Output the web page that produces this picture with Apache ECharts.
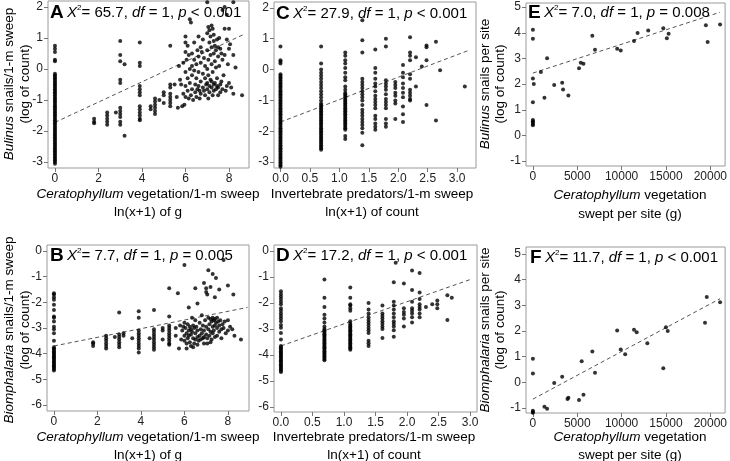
<!DOCTYPE html>
<html><head><meta charset="utf-8">
<script src="https://cdn.jsdelivr.net/npm/echarts@6/dist/echarts.min.js"></script>
<style>html,body{margin:0;padding:0;background:#fff}#c{width:730px;height:461px}</style>
</head><body><div id="c"></div><script>
// ---------- Panel A: Bulinus vs Ceratophyllum (per sweep) ----------
const aColumns = [
  [0, [-3.05,-3.0,-2.95,-2.9,-2.85,-2.8,-2.75,-2.7,-2.65,-2.6,-2.55,-2.5,-2.45,-2.4,-2.35,-2.3,-2.25,-2.2,-2.15,-2.1,-2.05,-2.0,-1.95,-1.9,-1.85,-1.8,-1.75,-1.7,-1.65,-1.6,-1.55,-1.5,-1.45,-1.4,-1.35,-1.3,-1.25,-1.2,-1.15,-1.1,-1.05,-1.0,-0.95,-0.9,-0.85,-0.8,-0.75,-0.7,-0.65,-0.6,-0.55,-0.5,-0.45,-0.4,-0.35,-0.3,-0.25,-0.2,-0.15,0.25,0.3,0.55,0.65,0.75]],
  [1.8, [-1.6,-1.7,-1.75]],
  [2.4, [-1.4,-1.5,-1.6,-1.7,-1.8]],
  [2.8, [-1.4]],
  [3.0, [0.9,0.45,0.25,-0.35,-0.45,-1.25,-1.35,-1.45,-1.55,-1.7,-1.8]],
  [3.2, [0.15,-2.15]],
  [3.9, [0.85,0.2,0.1,-0.55,-0.65,-0.75,-0.85,-1.2,-1.3,-1.4,-1.5,-1.6,-1.65]],
  [4.4, [-1.2,-1.3]],
  [4.6, [-0.95,-1.05,-1.15,-1.25,-1.35,-1.45]],
  [4.8, [-1.0]],
  [5.0, [-0.75,-0.85,-1.1]],
  [5.3, [0.75,-0.5,-0.6,-0.8,-0.9,-1.0,-1.1,-1.2]]
];
const aPoints = [
  [5.5,-0.5],[5.6,-0.9],[5.65,-1.25],[5.75,-0.35],[5.85,-1.2],[5.7,0.1],
  [5.8,-0.5],[5.9,-0.8],[5.9,0.2],[6.0,1.05],[6.0,0.85],[6.0,0.55],[6.0,-0.1],[6.0,-0.55],[6.0,-0.9],[5.95,-1.15],[6.05,0.3],[6.1,0.75],[6.1,-0.3],[6.1,-0.7],[6.15,0.45],[6.15,-0.95],
  [6.2,1.6],[6.25,1.5],[6.2,0.0],[6.2,-0.45],[6.25,-0.85],[6.3,0.5],[6.3,0.1],[6.3,-0.2],[6.3,-0.65],[6.35,-1.0],[6.4,0.85],[6.4,0.3],[6.4,-0.05],[6.45,-0.5],[6.45,-0.75],[6.5,0.15],[6.5,-0.3],[6.5,-0.9],[6.55,0.6],[6.55,-0.65],
  [6.6,1.05],[6.6,0.4],[6.6,-0.1],[6.6,-0.55],[6.65,-0.7],[6.65,-0.95],[6.7,0.7],[6.7,0.2],[6.7,-0.4],[6.7,-0.8],[6.75,0.55],[6.8,0.95],[6.8,-0.15],[6.8,-0.6],[6.85,-0.7],[6.85,0.35],[6.9,-0.3],[6.9,-0.85],[6.9,0.1],[6.95,-0.5],
  [7.0,2.15],[7.0,1.15],[7.0,0.6],[7.0,0.0],[7.0,-0.45],[7.0,-0.65],[7.05,1.35],[7.05,0.3],[7.05,-0.2],[7.05,-0.95],[7.1,1.25],[7.1,0.85],[7.1,-0.55],[7.1,-0.75],[7.15,0.45],[7.15,1.05],[7.15,-0.35],[7.2,1.4],[7.2,0.7],[7.2,0.15],[7.2,-0.6],[7.2,-0.4],[7.25,1.3],[7.25,-0.1],[7.25,-0.85],[7.3,1.1],[7.3,0.5],[7.3,0.9],[7.3,-0.5],[7.3,-0.7],
  [7.35,0.75],[7.35,0.25],[7.35,-0.45],[7.4,2.2],[7.4,0.6],[7.4,0.05],[7.4,-0.65],[7.45,0.95],[7.45,-0.3],[7.45,-0.55],[7.5,0.7],[7.5,0.4],[7.5,-0.6],[7.5,-0.85],[7.55,1.0],[7.55,0.1],[7.6,0.65],[7.6,-0.5],[7.6,-0.75],[7.65,0.5],[7.65,-0.4],[7.7,1.9],[7.7,0.3],[7.7,-0.65],
  [7.75,-0.2],[7.8,2.0],[7.8,1.3],[7.8,0.45],[7.85,-0.7],[7.9,1.75],[7.9,-0.55],[7.95,0.15],[8.0,1.3],[8.0,-0.45],[8.05,0.8],[8.1,-0.6],[8.2,2.15],[8.2,0.45],[8.2,-0.8],[8.3,0.05],[8.6,-0.85],[8.0,0.65],[7.9,0.95]
];
const aTrend = [[0,-1.72],[8.7,1.12]];

// ---------- Panel B: Biomphalaria vs Ceratophyllum (per sweep) ----------
const bColumns = [
  [0, [-4.65,-4.6,-4.55,-4.5,-4.45,-4.4,-4.35,-4.3,-4.25,-4.2,-4.15,-4.1,-4.05,-4.0,-3.95,-3.9,-3.85,-3.8,-3.75,-3.5,-3.2,-3.05,-2.95,-2.75,-2.6,-2.55,-2.3,-2.1,-1.9,-1.8,-1.7,-1.65]],
  [1.8, [-3.55,-3.6,-3.7]],
  [2.4, [-3.3,-3.4,-3.5,-3.6,-3.7,-3.8]],
  [2.8, [-3.35]],
  [3.0, [-2.4,-3.25,-3.35,-3.45,-3.55,-3.65,-3.75]],
  [3.2, [-3.2,-3.3]],
  [3.6, [-3.4]],
  [3.9, [-2.35,-2.6,-3.1,-3.2,-3.3,-3.4,-3.5,-3.6,-3.7,-3.8,-3.95]],
  [4.4, [-3.4]],
  [4.6, [-2.3,-3.05,-3.15,-3.25,-3.35,-3.45,-3.55,-3.65,-3.75,-3.85]],
  [5.0, [-3.0,-3.1,-3.45]],
  [5.3, [-1.45,-2.55,-2.9,-3.0,-3.1,-3.2,-3.3,-3.4,-3.5,-3.6,-3.65]],
  [5.6, [-3.0,-3.3]]
];
const bPoints = [
  [5.7,-1.65],[5.75,-3.8],[6.0,-0.55],[6.5,-1.45],
  [5.8,-2.9],[5.85,-3.45],[5.9,-3.1],[5.95,-2.95],[6.0,-3.3],[6.0,-3.5],[6.0,-2.8],[6.05,-3.0],[6.1,-3.2],[6.1,-3.6],[6.15,-2.85],[6.15,-3.4],[6.2,-2.2],[6.2,-3.1],[6.2,-3.3],[6.25,-2.95],[6.25,-3.55],[6.3,-3.05],[6.3,-3.25],[6.3,-3.7],[6.35,-2.6],[6.35,-3.15],[6.4,-2.9],[6.4,-3.4],[6.45,-3.0],[6.45,-3.6],[6.5,-2.7],[6.5,-3.2],[6.5,-3.45],[6.55,-2.95],[6.6,-2.05],[6.6,-3.1],[6.6,-3.35],[6.65,-3.5],[6.7,-2.8],[6.7,-3.3],[6.75,-3.05],[6.75,-3.45],[6.8,-2.5],[6.8,-3.2],[6.85,-3.4],[6.85,-2.9],[6.9,-1.25],[6.9,-3.1],[6.9,-3.35],[6.95,-2.7],
  [7.0,-1.45],[7.0,-1.6],[7.0,-2.95],[7.0,-3.25],[7.05,-1.7],[7.05,-3.4],[7.1,-0.75],[7.1,-2.6],[7.1,-3.05],[7.15,-2.85],[7.15,-3.3],[7.2,-1.4],[7.2,-2.65],[7.2,-3.15],[7.25,-2.75],[7.25,-3.45],[7.3,-0.9],[7.3,-2.6],[7.3,-2.95],[7.3,-3.2],[7.35,-2.7],[7.35,-3.1],[7.4,-1.8],[7.4,-2.65],[7.4,-2.9],[7.4,-3.35],[7.45,-1.05],[7.45,-2.8],[7.5,-2.6],[7.5,-3.0],[7.5,-3.3],[7.55,-2.75],[7.6,-1.5],[7.6,-2.9],[7.6,-3.15],[7.65,-2.7],[7.7,-3.05],[7.7,-3.4],[7.75,-2.85],[7.8,-0.35],[7.8,-3.0],[7.85,-2.75],[7.9,-3.2],[8.0,-1.35],[8.0,-2.7],[8.0,-3.1],[8.1,-2.95],[8.2,-3.05],[8.25,-1.7],[8.3,-3.3],[8.6,-3.45],
  [6.1,-3.8],[6.4,-3.75],[6.6,-3.65],[6.9,-3.6],[7.2,-3.55],[7.05,-3.6]
];
const bTrend = [[0,-3.7],[8.9,-2.2]];

// ---------- Panel C: Bulinus vs invertebrate predators ----------
const cColumns = [
  [0, [-3.15,-3.1,-3.05,-3.0,-2.95,-2.9,-2.85,-2.8,-2.75,-2.7,-2.65,-2.6,-2.55,-2.5,-2.45,-2.4,-2.35,-2.3,-2.25,-2.2,-2.15,-2.1,-2.05,-2.0,-1.95,-1.9,-1.85,-1.8,-1.75,-1.7,-1.65,-1.6,-1.55,-1.5,-1.45,-1.4,-1.35,-1.3,-1.25,-1.2,-1.15,-1.1,-1.05,-1.0,-0.95,-0.9,-0.85,-0.8,-0.75,-0.7,-0.65,-0.6,-0.55,-0.5,-0.45,-0.4,-0.35,-0.3,-0.25,-0.2,-0.15,0.2,0.25,0.3,0.75]],
  [0.69, [0.75,0.2,0.0,-0.1,-0.2,-0.3,-0.4,-0.5,-0.6,-0.7,-0.8,-0.9,-1.0,-1.1,-1.15,-1.2,-1.25,-1.3,-1.35,-1.4,-1.45,-1.5,-1.55,-1.6,-1.65,-1.7,-1.75,-1.8,-1.85,-1.9,-1.95,-2.0,-2.05,-2.1,-2.15,-2.2,-2.25,-2.3,-2.35,-2.4,-2.45,-2.5,-2.55,-2.6]],
  [1.1, [0.55,0.45,0.3,0.2,0.05,-0.1,-0.25,-0.35,-0.55,-0.65,-0.75,-0.8,-0.85,-0.9,-0.95,-1.0,-1.05,-1.1,-1.15,-1.2,-1.25,-1.3,-1.35,-1.4,-1.45,-1.5,-1.55,-1.6,-1.65,-1.7,-1.75,-1.8,-1.85,-1.9,-1.95,-2.15,-2.25]],
  [1.39, [1.6,0.95,0.55,-0.3,-0.4,-0.5,-0.6,-0.7,-0.8,-0.9,-1.0,-1.15,-1.3,-1.4,-1.5,-1.6,-1.7,-1.8,-1.9,-2.05,-2.45]],
  [1.61, [0.65,0.05,-0.1,-0.3,-0.45,-0.55,-0.7,-0.85,-0.95,-1.05,-1.15,-1.25,-1.5,-1.6,-1.75,-1.85,-1.95]],
  [1.79, [1.0,0.75,-0.35,-0.45,-0.55,-0.65,-0.8,-0.95,-1.05,-1.15,-1.25,-1.6,-1.75,-1.85]],
  [1.95, [-0.4,-0.5,-0.6,-0.75,-0.85,-1.0,-1.1,-1.6]],
  [2.08, [0.15,-0.1,-0.25,-0.45,-0.6,-0.75,-0.9,-1.2,-1.45,-1.7]],
  [2.2, [1.05,0.55,0.45,0.3,-0.15,-0.3,-0.65,-0.75,-0.85,-0.95,-1.0]],
  [2.3, [0.4,-0.55]],
  [2.4, [0.1]],
  [2.48, [0.78,0.72,0.3,-1.15]],
  [2.64, [0.9,-1.65]],
  [2.71, [-0.02]],
  [3.13, [-0.55]]
];
const cTrend = [[0,-1.7],[3.22,0.64]];

// ---------- Panel D: Biomphalaria vs invertebrate predators ----------
const dColumns = [
  [0, [-4.65,-4.6,-4.55,-4.5,-4.45,-4.4,-4.35,-4.3,-4.25,-4.2,-4.15,-4.1,-4.05,-4.0,-3.95,-3.9,-3.85,-3.8,-3.75,-3.7,-3.65,-3.4,-3.15,-2.95,-2.85,-2.7,-2.6,-2.5,-2.4,-2.3,-2.2,-2.05,-1.95,-1.85,-1.75,-1.65,-1.55]],
  [0.69, [-1.1,-1.8,-2.15,-2.45,-2.6,-2.75,-2.9,-3.0,-3.05,-3.1,-3.15,-3.2,-3.25,-3.3,-3.35,-3.4,-3.45,-3.5,-3.55,-3.6,-3.65,-3.7,-3.75,-3.8,-3.85,-3.9,-3.95,-4.0,-4.05,-4.1,-4.15,-4.2]],
  [1.1, [-1.4,-1.8,-2.05,-2.1,-2.2,-2.3,-2.7,-2.8,-2.85,-2.9,-2.95,-3.0,-3.05,-3.1,-3.15,-3.2,-3.25,-3.3,-3.35,-3.4,-3.45,-3.5,-3.55,-3.6,-3.65,-3.7,-3.75,-3.8]],
  [1.39, [-2.0,-2.25,-2.4,-2.55,-2.65,-2.75,-2.85,-2.95,-3.05,-3.15,-3.45,-3.55,-3.65]],
  [1.61, [-2.1,-2.4,-2.5,-2.6,-2.7,-2.8,-2.9,-3.0,-3.35]],
  [1.79, [-1.2,-1.95,-2.1,-2.25,-2.4,-2.55,-2.7,-2.8,-2.9,-3.05,-3.3]],
  [1.82, [-0.45]],
  [1.95, [-1.25,-2.2,-2.35,-2.45,-2.6,-2.9]],
  [2.08, [-0.75,-1.5,-1.95,-2.2,-2.3,-2.4,-2.55,-2.75]],
  [2.2, [-0.85,-1.6,-1.85,-2.05,-2.15,-2.25,-2.4,-2.55]],
  [2.3, [-2.15]],
  [2.4, [-2.05]],
  [2.48, [-1.9,-2.05,-2.2]],
  [2.64, [-1.7,-2.65]],
  [2.71, [-1.8]]
];
const dTrend = [[0,-3.65],[3.0,-1.1]];

// ---------- Panel E: Bulinus per site vs Ceratophyllum per site ----------
const eVeg = [0,0,0,100,0,0,0,0,0,0,900,1300,1600,2400,3300,3400,4000,5200,5400,5700,6700,7000,9500,9900,11400,11800,13000,14700,15100,15300,19500,19700,21100];
const eSnail = [4.12,3.77,2.22,2.0,1.29,0.6,0.55,0.5,0.45,0.4,2.47,1.47,3.01,1.97,2.05,1.79,1.56,2.62,2.83,2.79,3.88,3.34,3.38,3.31,3.68,3.99,4.09,4.18,3.79,3.96,4.29,3.64,4.32];
const eTrend = [[0,2.43],[21100,4.8]];

// ---------- Panel F: Biomphalaria per site vs Ceratophyllum per site ----------
const fVeg = [0,0,0,0,0,0,0,900,1300,1600,2400,3300,3900,4000,5200,5500,5700,6700,7000,9500,9900,10400,11400,11700,12900,14700,15000,15200,19400,19600,21100];
const fSnail = [0.92,0.35,-1.1,-1.15,-1.18,-1.2,-1.22,-1.2,-0.95,-1.02,-0.02,0.22,-0.65,-0.6,-0.68,0.82,-0.48,1.2,0.38,2.02,1.28,1.1,2.05,1.95,1.52,0.55,2.15,2.0,2.32,3.32,3.12];
const fTrend = [[0,-0.65],[21100,3.26]];

// ---------- tick labels ----------
const ticksVegLn = [0,2,4,6,8];
const ticksPred = [0,0.5,1,1.5,2,2.5,3];
const ticksSite = [0,5000,10000,15000,20000];
const ticksYTop = [-3,-2,-1,0,1,2];
const ticksYBot = [-6,-5,-4,-3,-2,-1,0];
const ticksYSite = [-1,0,1,2,3,4,5];

function fromColumns(cols){const o=[];cols.forEach(c=>c[1].forEach(y=>o.push([c[0],y])));return o;}
function zip(xs,ys){return xs.map((x,i)=>[x,ys[i]]);}

const FONT = '"Liberation Sans", Arial, sans-serif';
const grids = [
  {left:48, top:1, width:201, height:167},
  {left:274, top:2, width:202, height:166},
  {left:526, top:3, width:202, height:163},
  {left:47, top:245, width:202, height:166},
  {left:274, top:245, width:203, height:167},
  {left:526, top:247, width:202, height:166}
].map(g=>Object.assign({show:true, borderColor:'#9a9a9a', borderWidth:1, backgroundColor:'#fff'}, g));

const fmtPlain = v=>String(v);
const fmtPred = v=>v.toFixed(1);
function xAx(i,min,max,ticks,fmt){
  return {type:'value', gridIndex:i, min:min, max:max, position:'bottom', splitLine:{show:false},
    axisLine:{show:false, onZero:false},
    axisTick:{show:true, length:4, lineStyle:{color:'#777'}, customValues:ticks},
    axisLabel:{show:true, customValues:ticks, color:'#222', fontSize:12, fontFamily:FONT, margin:5, formatter:fmt||fmtPlain}};
}
function yAx(i,min,max,ticks){
  return {type:'value', gridIndex:i, min:min, max:max, position:'left', splitLine:{show:false},
    axisLine:{show:false, onZero:false},
    axisTick:{show:true, length:4, lineStyle:{color:'#777'}, customValues:ticks},
    axisLabel:{show:true, customValues:ticks, color:'#222', fontSize:12, fontFamily:FONT, margin:5, formatter:fmtPlain}};
}
const xAxes = [
  xAx(0,-0.32,8.92,ticksVegLn),
  xAx(1,-0.11,3.32,ticksPred,fmtPred),
  xAx(2,-778,21667,ticksSite),
  xAx(3,-0.32,8.97,ticksVegLn),
  xAx(4,-0.11,3.11,ticksPred,fmtPred),
  xAx(5,-778,21667,ticksSite)
];
const yAxes = [
  yAx(0,-3.19,2.19,ticksYTop),
  yAx(1,-3.19,2.19,ticksYTop),
  yAx(2,-1.19,5.16,ticksYSite),
  yAx(3,-6.23,0.23,ticksYBot),
  yAx(4,-6.19,0.23,ticksYBot),
  yAx(5,-1.19,5.27,ticksYSite)
];
const scatterData = [
  fromColumns(aColumns).concat(aPoints),
  fromColumns(cColumns),
  zip(eVeg,eSnail),
  fromColumns(bColumns).concat(bPoints),
  fromColumns(dColumns),
  zip(fVeg,fSnail)
];
const trends = [aTrend,cTrend,eTrend,bTrend,dTrend,fTrend];
const series = [];
scatterData.forEach((d,i)=>{
  series.push({type:'line', xAxisIndex:i, yAxisIndex:i, data:trends[i], showSymbol:false, symbol:'none',
    lineStyle:{color:'#555', width:1, type:[4,3]}, silent:true, z:1});
  series.push({type:'scatter', xAxisIndex:i, yAxisIndex:i, data:d, symbolSize:4,
    itemStyle:{color:'#000'}, silent:true, z:2});
});

const rich = {
  b:{fontSize:19, fontWeight:'bold', fontFamily:FONT, color:'#000'},
  i:{fontSize:15, fontStyle:'italic', fontFamily:FONT, color:'#000'},
  s:{fontSize:8, fontFamily:FONT, color:'#000', verticalAlign:'top', padding:[0,0,8,0]},
  n:{fontSize:15, fontFamily:FONT, color:'#000'}
};
function ann(x,y,letter,chi,pPart){
  return {type:'text', x:x, y:y, z:100, style:{
    text:'{b|'+letter+'} {i|X}{s|2}{n|= '+chi+', }{i|df}{n| = 1, }{i|p}{n| '+pPart+'}',
    rich:rich, textVerticalAlign:'middle', textAlign:'left'}};
}
const richT = {
  i:{fontSize:13.5, fontStyle:'italic', fontFamily:FONT, color:'#222'},
  n:{fontSize:13.5, fontFamily:FONT, color:'#222'}
};
function txt(x,y,t,rot){
  return {type:'text', x:x, y:y, rotation:rot||0, z:100, style:{text:t, rich:richT, align:'center', verticalAlign:'middle', textAlign:'center', textVerticalAlign:'middle'}};
}
const R = Math.PI/2;
const graphics = [
  ann(50,13,'A','65.7','< 0.001'),
  ann(276,14,'C','27.9','< 0.001'),
  ann(528,13,'E','7.0','= 0.008'),
  ann(50,256,'B','7.7','= 0.005'),
  ann(276,256,'D','17.2','< 0.001'),
  ann(530,258,'F','11.7','< 0.001'),
  txt(9,84,'{i|Bulinus}{n| snails/1-m sweep}',R),
  txt(25,84,'{n|(log of count)}',R),
  txt(9,330,'{i|Biomphalaria}{n| snails/1-m sweep}',R),
  txt(25,330,'{n|(log of count)}',R),
  txt(485,84,'{i|Bulinus}{n| snails per site}',R),
  txt(500,84,'{n|(log of count)}',R),
  txt(485,330,'{i|Biomphalaria}{n| snails per site}',R),
  txt(500,330,'{n|(log of count)}',R),
  txt(148,194,'{i|Ceratophyllum}{n| vegetation/1-m sweep}'),
  txt(148,212,'{n|ln(x+1) of g}'),
  txt(372,194,'{n|Invertebrate predators/1-m sweep}'),
  txt(372,212,'{n|ln(x+1) of count}'),
  txt(630,195,'{i|Ceratophyllum}{n| vegetation}'),
  txt(630,214,'{n|swept per site (g)}'),
  txt(148,437,'{i|Ceratophyllum}{n| vegetation/1-m sweep}'),
  txt(148,455,'{n|ln(x+1) of g}'),
  txt(374,437,'{n|Invertebrate predators/1-m sweep}'),
  txt(374,455,'{n|ln(x+1) of count}'),
  txt(630,437,'{i|Ceratophyllum}{n| vegetation}'),
  txt(630,455,'{n|swept per site (g)}')
];

const chart = echarts.init(document.getElementById('c'), null, {renderer:'canvas'});
chart.setOption({
  animation:false,
  backgroundColor:'#fff',
  grid:grids, xAxis:xAxes, yAxis:yAxes, series:series,
  graphic:{elements:graphics}
});
</script></body></html>
